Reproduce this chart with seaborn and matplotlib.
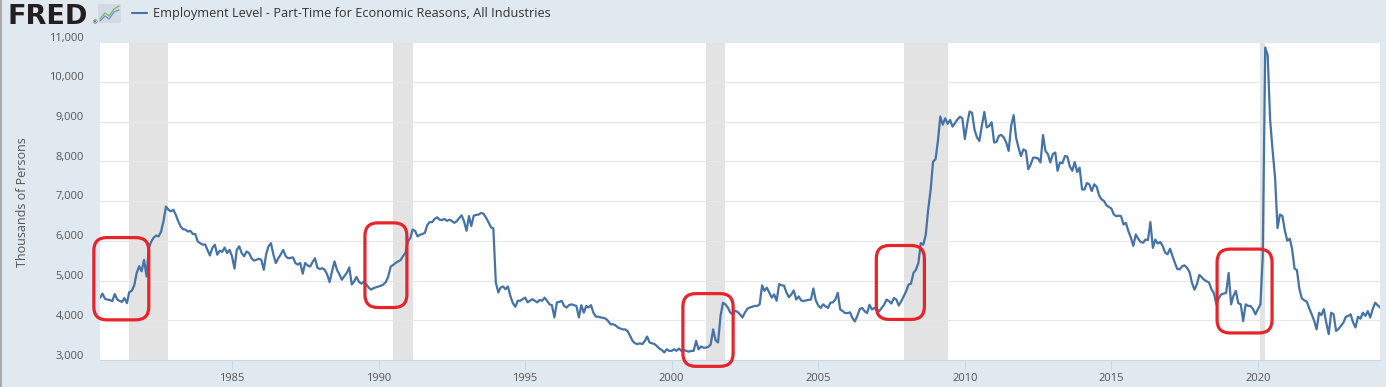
import numpy as np
import pandas as pd
import matplotlib
matplotlib.use("Agg")
import matplotlib.pyplot as plt
import matplotlib.transforms as mtransforms
from matplotlib.patches import FancyBboxPatch, Rectangle
from matplotlib.lines import Line2D
import seaborn as sns

# ---------------- data ----------------
series_name = "Employment Level - Part-Time for Economic Reasons, All Industries"
y_label = "Thousands of Persons"
start_month = "1980-07-01"

v1980 = [4560, 4670, 4540, 4520, 4510, 4480]  # Jul-Dec
v1981 = [4660, 4520, 4490, 4460, 4560, 4430, 4710, 4740, 4880, 5190, 5360, 5230]
v1982 = [5520, 5100, 5820, 5980, 6080, 6130, 6110, 6230, 6500, 6860, 6780, 6740]
v1983 = [6780, 6650, 6500, 6360, 6290, 6280, 6230, 6250, 6170, 6170, 5980, 5940]
v1984 = [5900, 5910, 5770, 5630, 5820, 5900, 5650, 5750, 5720, 5830, 5690, 5770]
v1985 = [5610, 5300, 5770, 5860, 5690, 5610, 5730, 5690, 5560, 5500, 5520, 5550]
v1986 = [5520, 5270, 5650, 5860, 5940, 5650, 5440, 5560, 5660, 5770, 5610, 5560]
v1987 = [5570, 5580, 5440, 5400, 5440, 5170, 5440, 5380, 5350, 5460, 5560, 5320]
v1988 = [5290, 5310, 5270, 5150, 4960, 5240, 5480, 5270, 5150, 5020, 5110, 5190]
v1989 = [5330, 4900, 4970, 5090, 4970, 4920, 4970, 4900, 4820, 4770, 4810, 4830]
v1990 = [4850, 4870, 4900, 4960, 5100, 5350, 5390, 5440, 5480, 5510, 5610, 5690]
v1991 = [5980, 6070, 6280, 6250, 6110, 6150, 6170, 6200, 6400, 6470, 6470, 6550]
v1992 = [6590, 6530, 6520, 6550, 6500, 6530, 6500, 6450, 6490, 6570, 6640, 6490]
v1993 = [6250, 6620, 6370, 6630, 6650, 6660, 6700, 6680, 6580, 6470, 6340, 6310]
v1994 = [4950, 4700, 4820, 4850, 4780, 4850, 4610, 4430, 4340, 4490, 4490, 4530]
v1995 = [4570, 4450, 4490, 4530, 4490, 4450, 4510, 4490, 4570, 4490, 4400, 4380]
v1996 = [4070, 4450, 4460, 4490, 4360, 4320, 4380, 4400, 4380, 4360, 4070, 4380]
v1997 = [4190, 4360, 4320, 4380, 4190, 4090, 4090, 4070, 4060, 4040, 3980, 3900]
v1998 = [3900, 3870, 3820, 3790, 3770, 3770, 3730, 3610, 3480, 3420, 3400, 3420]
v1999 = [3400, 3480, 3590, 3440, 3420, 3400, 3350, 3290, 3250, 3190, 3270, 3230]
v2000 = [3230, 3270, 3230, 3290, 3230, 3250, 3230, 3210, 3230, 3230, 3480, 3270]
v2001 = [3340, 3310, 3310, 3330, 3390, 3770, 3500, 3440, 4110, 4440, 4400, 4320]
v2002 = [4190, 4150, 4240, 4210, 4150, 4070, 4190, 4290, 4320, 4340, 4360, 4360]
v2003 = [4400, 4880, 4740, 4820, 4700, 4570, 4650, 4490, 4910, 4880, 4870, 4700]
v2004 = [4580, 4650, 4750, 4520, 4600, 4500, 4480, 4500, 4510, 4520, 4800, 4500]
v2005 = [4370, 4310, 4400, 4350, 4310, 4440, 4450, 4520, 4690, 4270, 4230, 4180]
v2006 = [4180, 4200, 4060, 3970, 4100, 4280, 4310, 4230, 4180, 4390, 4270, 4310]
v2007 = [4270, 4230, 4310, 4390, 4520, 4480, 4420, 4560, 4520, 4370, 4480, 4600]
v2008 = [4730, 4900, 4920, 5190, 5270, 5440, 5940, 5900, 6150, 6780, 7280, 7990]
v2009 = [8050, 8540, 9125, 8920, 9080, 8940, 9040, 8870, 8960, 9050, 9120, 9080]
v2010 = [8560, 8960, 9250, 9220, 8800, 8600, 8510, 8890, 9240, 8850, 8890, 8980]
v2011 = [8470, 8490, 8640, 8660, 8600, 8470, 8260, 8890, 9160, 8600, 8340, 8130]
v2012 = [8300, 8260, 7800, 7920, 8090, 8090, 8070, 7970, 8660, 8260, 8180, 7970]
v2013 = [8180, 8220, 7760, 7970, 7950, 8130, 8120, 7870, 7760, 7980, 7730, 7840]
v2014 = [7290, 7290, 7450, 7420, 7250, 7420, 7360, 7140, 7040, 7000, 6890, 6850]
v2015 = [6810, 6660, 6620, 6630, 6620, 6410, 6450, 6240, 6080, 5870, 6160, 6050]
v2016 = [5970, 5950, 6030, 6020, 6470, 5820, 6030, 5930, 5970, 5870, 5700, 5660]
v2017 = [5800, 5610, 5450, 5290, 5280, 5360, 5380, 5320, 5210, 4940, 4770, 4900]
v2018 = [5140, 5080, 5020, 4980, 4950, 4780, 4680, 4400, 4560, 4650, 4670, 4690]
v2019 = [5190, 4400, 4610, 4740, 4430, 4400, 3980, 4400, 4360, 4360, 4280, 4150]
v2020 = [4280, 4400, 5610, 10860, 10670, 9040, 8290, 7600, 6320, 6660, 6620, 6260]
v2021 = [6000, 6050, 5800, 5300, 5260, 4780, 4550, 4500, 4470, 4300, 4150, 3990]
v2022 = [3770, 4190, 4130, 4280, 3940, 3650, 4190, 4150, 3730, 3780, 3860, 3940]
v2023 = [4090, 4110, 4150, 3940, 3820, 4090, 4040, 4190, 4110, 4230, 4070, 4280]
v2024 = [4440, 4380, 4320]  # Jan-Mar

values = (v1980 + v1981 + v1982 + v1983 + v1984 + v1985 + v1986 + v1987 + v1988
          + v1989 + v1990 + v1991 + v1992 + v1993 + v1994 + v1995 + v1996 + v1997
          + v1998 + v1999 + v2000 + v2001 + v2002 + v2003 + v2004 + v2005 + v2006
          + v2007 + v2008 + v2009 + v2010 + v2011 + v2012 + v2013 + v2014 + v2015
          + v2016 + v2017 + v2018 + v2019 + v2020 + v2021 + v2022 + v2023 + v2024)

recessions = [("1981-07-01", "1982-11-01"), ("1990-07-01", "1991-03-01"),
              ("2001-03-01", "2001-11-01"), ("2007-12-01", "2009-06-01"),
              ("2020-02-01", "2020-04-01")]

# hand-drawn red highlight boxes: (start, end, low, high)
highlight_boxes = [("1980-04-15", "1982-03-01", 4010, 6080),
                   ("1989-07-15", "1990-12-20", 4320, 6450),
                   ("2000-05-20", "2002-02-05", 2840, 4670),
                   ("2006-12-25", "2008-08-15", 4020, 5880),
                   ("2018-08-10", "2020-06-25", 3680, 5790)]

x_tick_years = [1985, 1990, 1995, 2000, 2005, 2010, 2015, 2020]
y_ticks = [3000, 4000, 5000, 6000, 7000, 8000, 9000, 10000, 11000]
y_tick_labels = ["3,000", "4,000", "5,000", "6,000", "7,000", "8,000", "9,000", "10,000", "11,000"]

dates = pd.date_range(start_month, periods=len(values), freq="MS")
df = pd.DataFrame({"date": dates, "value": values})

# ---------------- style ----------------
BG = "#e1e9f0"
LINE = "#4572a7"
TXT = "#555555"

sns.set_theme(style="white")
plt.rcParams["font.family"] = ["Open Sans", "DejaVu Sans"]

W, H = 1386, 387
fig = plt.figure(figsize=(W / 100, H / 100), dpi=100, facecolor=BG)
ax = fig.add_axes([100 / W, (H - 360) / H, 1280 / W, 318 / H])
ax.set_facecolor("white")

for s, e in recessions:
    ax.axvspan(pd.Timestamp(s), pd.Timestamp(e), color="#e3e3e3", lw=0, zorder=0.2)

sns.lineplot(data=df, x="date", y="value", ax=ax, color=LINE, linewidth=1.6, zorder=3)

ax.set_xlim(dates[0], dates[-1])
ax.set_ylim(y_ticks[0], y_ticks[-1])
ax.set_axisbelow(True)
ax.set_yticks(y_ticks)
ax.yaxis.grid(True, color="#e6e6e6", linewidth=0.8)
ax.xaxis.grid(False)
ax.set_yticklabels([])
ax.tick_params(axis="y", length=0)
ax.set_xticks([pd.Timestamp(f"{y}-01-01") for y in x_tick_years])
ax.set_xticklabels([str(y) for y in x_tick_years])
ax.tick_params(axis="x", length=7.2, width=0.75, color="#ccd6eb", pad=2,
               labelsize=8, labelcolor=TXT, direction="out", bottom=True)
ax.set_xlabel("")
ax.set_ylabel("")
for side in ["top", "right", "left"]:
    ax.spines[side].set_visible(False)
ax.spines["bottom"].set_color("#ccd6eb")
ax.spines["bottom"].set_linewidth(0.75)

# y tick labels placed slightly above their gridlines (FRED style)
ytrans = mtransforms.blended_transform_factory(ax.transAxes, ax.transData) + \
    mtransforms.ScaledTranslation(-16 / 100, 4 / 100, fig.dpi_scale_trans)
for v, lab in zip(y_ticks, y_tick_labels):
    ax.text(0, v, lab, transform=ytrans, ha="right", va="center",
            fontsize=8, color=TXT, clip_on=False)

fig.text(22.7 / W, 1 - 202 / H, y_label, rotation=90, ha="center", va="center",
         fontsize=9, color=TXT)

# header: FRED logo + legend
fig.add_artist(Rectangle((0, 0), 2 / W, 1, transform=fig.transFigure,
                         facecolor="#a9a9a9", edgecolor="none"))
fig.text(8 / W, 1 - 24 / H, "FRED", family="DejaVu Sans", fontweight="bold",
         fontsize=19.5, color="#231f20", va="baseline", ha="left")
fig.text(91 / W, 1 - 24 / H, "®", family="DejaVu Sans", fontsize=4.5,
         color="#231f20", va="baseline", ha="left")
fig.add_artist(Rectangle((98 / W, 1 - 23 / H), 23 / W, 19 / H, transform=fig.transFigure,
                         facecolor="#d3dae3", edgecolor="none"))
gx = [100, 105, 109, 114, 119]
fig.add_artist(Line2D([x / W for x in gx], [1 - y / H for y in [19, 13, 16, 9, 6]],
                      color="#7cb36b", lw=0.9, transform=fig.transFigure))
fig.add_artist(Line2D([x / W for x in gx], [1 - y / H for y in [21, 16, 19, 12, 10]],
                      color="#6f93c4", lw=0.9, transform=fig.transFigure))
fig.add_artist(Line2D([132 / W, 147 / W], [1 - 13 / H, 1 - 13 / H],
                      color=LINE, lw=1.5, transform=fig.transFigure))
fig.text(153 / W, 1 - 13 / H, series_name, fontsize=9.2, color="#333333",
         va="center", ha="left")

# red highlight boxes (rounded), drawn in pixel space
r = 13
for s, e, lo, hi in highlight_boxes:
    x0, y0 = ax.transData.transform((matplotlib.dates.date2num(pd.Timestamp(s)), lo))
    x1, y1 = ax.transData.transform((matplotlib.dates.date2num(pd.Timestamp(e)), hi))
    patch = FancyBboxPatch((x0, y0), x1 - x0, y1 - y0,
                           boxstyle=f"round,pad=0,rounding_size={r}",
                           transform=mtransforms.IdentityTransform(),
                           facecolor="none", edgecolor="#e8232a", linewidth=2.3,
                           clip_on=False, zorder=10)
    fig.add_artist(patch)

fig.savefig("out.png", dpi=100, facecolor=BG)
